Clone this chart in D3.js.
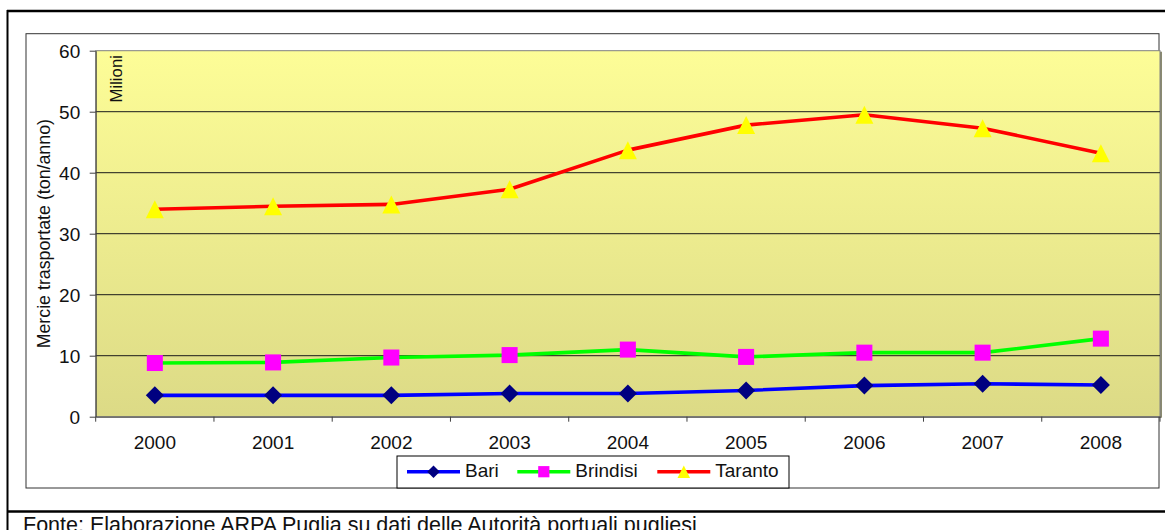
<!DOCTYPE html>
<html>
<head>
<meta charset="utf-8">
<script src="https://cdn.jsdelivr.net/npm/d3@7"></script>
<style>
  html, body { margin: 0; padding: 0; background: #fff; overflow: hidden; }
  svg { display: block; font-family: "Liberation Sans", Arial, sans-serif; }
</style>
</head>
<body>
<svg id="chart" width="1165" height="530"></svg>
<script>
// Merci trasportate nei porti pugliesi (milioni di tonnellate/anno)
const years = ["2000", "2001", "2002", "2003", "2004", "2005", "2006", "2007", "2008"];
const bari = [3.5, 3.5, 3.5, 3.8, 3.8, 4.3, 5.1, 5.4, 5.2];
const brindisi = [8.8, 8.9, 9.7, 10.1, 11.0, 9.8, 10.5, 10.5, 12.8];
const taranto = [34.0, 34.5, 34.8, 37.3, 43.7, 47.8, 49.5, 47.3, 43.2];
const yTicks = [0, 10, 20, 30, 40, 50, 60];
const seriesNames = ["Bari", "Brindisi", "Taranto"];

const series = [
  { name: seriesNames[0], values: bari, line: "#0000ff", fill: "#000080", marker: "diamond" },
  { name: seriesNames[1], values: brindisi, line: "#00ff00", fill: "#ff00ff", marker: "square" },
  { name: seriesNames[2], values: taranto, line: "#ff0000", fill: "#ffff00", marker: "triangle" }
];

const svg = d3.select("#chart");
const plot = { left: 95.7, right: 1160, top: 50.7, bottom: 416.7 };

const x = d3.scaleBand().domain(years).range([plot.left, plot.right]).paddingInner(0).paddingOuter(0);
const y = d3.scaleLinear().domain([0, 60]).range([plot.bottom, plot.top]);
const cx = d => x(d) + x.bandwidth() / 2;

// outer frame (table cell)
svg.append("line").attr("x1", 7).attr("x2", 1165).attr("y1", 11).attr("y2", 11)
  .attr("stroke", "#000").attr("stroke-width", 2.5);
svg.append("line").attr("x1", 7.5).attr("x2", 7.5).attr("y1", 10).attr("y2", 530)
  .attr("stroke", "#000").attr("stroke-width", 2);
svg.append("line").attr("x1", 7).attr("x2", 1165).attr("y1", 511.5).attr("y2", 511.5)
  .attr("stroke", "#000").attr("stroke-width", 2.5);

// chart area border
svg.append("rect").attr("x", 26).attr("y", 33.7).attr("width", 1133).attr("height", 454.3)
  .attr("fill", "#fff").attr("stroke", "#333").attr("stroke-width", 1);

// plot background gradient
const defs = svg.append("defs");
const grad = defs.append("linearGradient").attr("id", "bg").attr("x1", 0).attr("x2", 0).attr("y1", 0).attr("y2", 1);
grad.append("stop").attr("offset", "0%").attr("stop-color", "#fdfd97");
grad.append("stop").attr("offset", "100%").attr("stop-color", "#dcda86");

// shadow on the right edge of the plot
svg.append("rect").attr("x", plot.right).attr("y", plot.top + 1).attr("width", 2)
  .attr("height", plot.bottom - plot.top).attr("fill", "#8a8a70");
svg.append("rect").attr("x", plot.left).attr("y", plot.top)
  .attr("width", plot.right - plot.left).attr("height", plot.bottom - plot.top)
  .attr("fill", "url(#bg)").attr("stroke", "#808080").attr("stroke-width", 1);

// horizontal gridlines
svg.append("g").selectAll("line").data(yTicks.filter(t => t > 0 && t < 60)).join("line")
  .attr("x1", plot.left).attr("x2", plot.right)
  .attr("y1", d => y(d)).attr("y2", d => y(d))
  .attr("stroke", "#1a1a1a").attr("stroke-width", 1);

// y axis
const yAxis = svg.append("g").attr("transform", `translate(${plot.left},0)`)
  .call(d3.axisLeft(y).tickValues(yTicks).tickSize(6).tickPadding(9.5).tickSizeOuter(0));
yAxis.select(".domain").attr("stroke", "#404040");
yAxis.selectAll(".tick line").attr("stroke", "#404040");
yAxis.selectAll("text").attr("font-size", 19).attr("fill", "#111").attr("dy", "0.34em");

// x axis: labels centred in each category, ticks on category boundaries
const xAxis = svg.append("g").attr("transform", `translate(0,${plot.bottom})`)
  .call(d3.axisBottom(x).tickSize(0).tickPadding(19).tickSizeOuter(0));
xAxis.select(".domain").attr("stroke", "#404040");
xAxis.selectAll("text").attr("font-size", 19).attr("fill", "#111");
const bounds = years.map(d => x(d)).concat([x(years[years.length - 1]) + x.bandwidth()]);
svg.append("g").selectAll("line").data(bounds).join("line")
  .attr("x1", d => d).attr("x2", d => d)
  .attr("y1", plot.bottom).attr("y2", plot.bottom + 5)
  .attr("stroke", "#404040").attr("stroke-width", 1);

// axis titles
svg.append("text").attr("transform", "translate(49.5,233.7) rotate(-90)")
  .attr("text-anchor", "middle").attr("font-size", 17.8).attr("fill", "#111")
  .text("Mercie trasportate (ton/anno)");
svg.append("text").attr("transform", "translate(121.5,55) rotate(-90)")
  .attr("text-anchor", "end").attr("font-size", 16.8).attr("fill", "#111")
  .text("Milioni");

// marker shapes
function marker(sel, type, s) {
  if (type === "diamond") {
    sel.append("path").attr("d", `M0,${-s}L${s},0L0,${s}L${-s},0Z`);
  } else if (type === "square") {
    const h = s * 0.89;
    sel.append("rect").attr("x", -h).attr("y", -h).attr("width", 2 * h).attr("height", 2 * h);
  } else {
    sel.append("path").attr("d", `M0,${-s}L${s},${s}L${-s},${s}Z`);
  }
}

const line = d3.line().x((d, i) => cx(years[i])).y(d => y(d));

series.forEach(s => {
  svg.append("path").datum(s.values)
    .attr("d", line).attr("fill", "none")
    .attr("stroke", s.line).attr("stroke-width", 3.6).attr("stroke-linejoin", "round");
});
series.forEach(s => {
  const g = svg.append("g").attr("fill", s.fill);
  s.values.forEach((v, i) => {
    const m = g.append("g").attr("transform", `translate(${cx(years[i])},${y(v)})`);
    marker(m, s.marker, 9);
  });
});

// legend
const legend = svg.append("g");
legend.append("rect").attr("x", 397).attr("y", 456).attr("width", 392).attr("height", 32)
  .attr("fill", "#fff").attr("stroke", "#000").attr("stroke-width", 1);
const legendX = [407, 517.3, 657.3];
series.forEach((s, i) => {
  const g = legend.append("g").attr("transform", `translate(${legendX[i]},471.7)`);
  g.append("line").attr("x1", 0).attr("x2", 53).attr("y1", 0).attr("y2", 0)
    .attr("stroke", s.line).attr("stroke-width", 3.6);
  const m = g.append("g").attr("transform", "translate(26.5,0)").attr("fill", s.fill);
  marker(m, s.marker, 6.3);
  g.append("text").attr("x", 58).attr("y", 5).attr("font-size", 19).attr("fill", "#111").text(s.name);
});

// source note (the cell continues below the visible area)
svg.append("text").attr("x", 23).attr("y", 532).attr("font-size", 21.5).attr("fill", "#111")
  .text("Fonte: Elaborazione ARPA Puglia su dati delle Autorità portuali pugliesi");
</script>
</body>
</html>
